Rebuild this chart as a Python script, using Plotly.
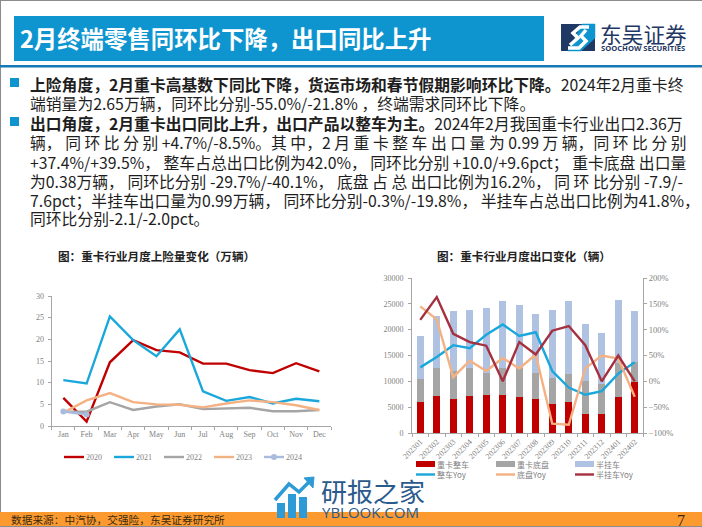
import plotly.graph_objects as go

W, H = 702, 527
def X(p): return p / W
def Y(p): return 1 - p / H

# ---------- data ----------
months = ["Jan","Feb","Mar","Apr","May","Jun","Jul","Aug","Sep","Oct","Nov","Dec"]
y2020 = [6.5,1.0,14.7,19.8,17.5,17.0,14.4,14.4,12.9,12.2,14.5,12.6]
y2021 = [10.6,9.8,25.3,19.8,16.1,22.3,8.0,5.8,6.7,5.2,6.3,5.7]
y2022 = [3.3,3.3,5.5,3.7,4.5,5.0,3.9,4.1,4.2,3.4,3.4,3.7]
y2023 = [3.1,5.9,7.6,5.5,5.0,4.9,4.3,5.2,5.9,5.5,4.8,3.7]
y2024 = [3.35,2.65]

periods = ["202301","202302","202303","202304","202305","202306","202307","202308","202309","202310","202311","202312","202401","202402"]
whole = [6050,7100,6600,7200,7300,7450,6950,6650,5600,6000,3700,3600,7050,9900]
chassis = [4450,5500,5400,5300,4300,5150,5550,5050,5000,5400,6300,5800,6450,3800]
semi = [8200,10000,11700,11400,12500,13000,12300,11300,13200,14100,11100,10000,12300,9900]
whole_yoy = [27,47,70,64,90,110,88,95,20,-12,-26,-19,15,37]
chassis_yoy = [145,120,8,40,20,45,25,52,-82,-84,25,50,44,-30]
semi_yoy = [119,163,92,76,69,0,76,52,98,107,70,0,50,0]

title = "2月终端零售同环比下降，出口同比上升"
body_lines = [
    "<b>上险角度，2月重卡高基数下同比下降，货运市场和春节假期影响环比下降。</b>2024年2月重卡终",
    "端销量为2.65万辆，同环比分别-55.0%/-21.8% ，终端需求同环比下降。",
    "<b>出口角度，2月重卡出口同比上升，出口产品以整车为主。</b>2024年2月我国重卡行业出口2.36万",
    "辆， 同 环 比 分 别 +4.7%/-8.5%。其 中，2 月 重 卡 整 车 出 口 量 为 0.99 万 辆，同 环 比 分 别",
    "+37.4%/+39.5%， 整车占总出口比例为42.0%， 同环比分别 +10.0/+9.6pct； 重卡底盘 出口量",
    "为0.38万辆， 同环比分别 -29.7%/-40.1%， 底盘 占 总 出口比例为16.2%， 同 环 比分别 -7.9/-",
    "7.6pct；半挂车出口量为0.99万辆， 同环比分别-0.3%/-19.8%， 半挂车占总出口比例为41.8%，",
    "同环比分别-2.1/-2.0pct。",
]
body_y = [84,103,123,142,162,181,200,219]

CJK = "Noto Sans CJK SC"
SERIF = "Liberation Serif"
GREY = "#7f7f7f"
AXIS = "#a6a6a6"
BLUE = "#0e95d0"
NAVY = "#1f3864"
C_RED, C_CYAN, C_GREY, C_ORANGE, C_PALE, C_LBLUE, C_WINE = "#c00000","#1aa7dc","#a5a5a5","#f4b183","#a9bcdd","#b0c2e2","#a5303f"

fig = go.Figure()
for name, vals, col in [("2020",y2020,C_RED),("2021",y2021,C_CYAN),("2022",y2022,C_GREY),("2023",y2023,C_ORANGE)]:
    fig.add_trace(go.Scatter(x=months, y=vals, name=name, mode="lines", xaxis="x", yaxis="y",
                             line=dict(color=col, width=2.4)))
fig.add_trace(go.Scatter(x=months[:2], y=y2024, name="2024", mode="lines+markers", xaxis="x", yaxis="y",
                         line=dict(color=C_PALE, width=2.4), marker=dict(color=C_PALE, size=6)))
for name, vals, col in [("重卡整车",whole,C_RED),("重卡底盘",chassis,C_GREY),("半挂车",semi,C_LBLUE)]:
    fig.add_trace(go.Bar(x=periods, y=vals, name=name, marker=dict(color=col, line_width=0), xaxis="x2", yaxis="y2"))
for name, vals, col in [("整车Yoy",whole_yoy,C_CYAN),("底盘Yoy",chassis_yoy,C_ORANGE),("半挂车Yoy",semi_yoy,C_WINE)]:
    fig.add_trace(go.Scatter(x=periods, y=vals, name=name, mode="lines", line=dict(color=col, width=2.4),
                             xaxis="x2", yaxis="y3"))

tick = dict(family=SERIF, size=8, color=GREY)
axis_common = dict(showgrid=False, zeroline=False, showline=True, linecolor=AXIS, linewidth=1, automargin=False,
                   ticks="outside", ticklen=3, tickcolor=AXIS, tickfont=tick)

shapes = []
def rect(x0,y0,x1,y1,col):
    shapes.append(dict(type="rect", xref="paper", yref="paper", x0=X(x0), x1=X(x1), y0=Y(y1), y1=Y(y0),
                       fillcolor=col, line_width=0, layer="below"))
def poly(pts, col, width, fill=None):
    d = "M" + " L".join(f"{X(a):.5f},{Y(b):.5f}" for a,b in pts) + (" Z" if fill else "")
    shapes.append(dict(type="path", xref="paper", yref="paper", path=d, line=dict(color=col, width=width),
                       fillcolor=fill, layer="below"))

rect(0,0,702,1,"#8c8c8c")
rect(0,0,1,527,"#8c8c8c")
rect(14,16,544,61,BLUE)
rect(0,65,702,67.5,"#1678b4")
rect(10,78,19,87,BLUE)
rect(10,117,19,126,BLUE)
rect(0,512,702,526,"#fd9a2f")
rect(0,526,702,527,"#8c8c8c")

# logo
rect(561,24,595,51,NAVY)
poly([(582,24),(595,24),(595,38),(581,51),(568,51)],BLUE,0.5,fill=BLUE)
poly([(570,45),(578,38),(573,33),(580,27),(589,27)],"#ffffff",3.5)
poly([(586,30),(581,36),(586,41),(579,48),(568,48)],"#ffffff",3.5)

# watermark icon
for x0,y0 in [(277,503),(288,494),(299,497)]:
    rect(x0,y0,x0+8,518,"#2e9bd6")
poly([(275,500),(289,484),(299,492),(311,480)],"#2e9bd6",3.5)
poly([(304,478),(314,477),(313,488)],"#2e9bd6",1,fill="#2e9bd6")

ann = []
def text(x,y,t,size,col="#222222",family=CJK):
    ann.append(dict(xref="paper", yref="paper", x=X(x), y=Y(y), text=t, showarrow=False, xanchor="left", yanchor="middle",
                    font=dict(family=family, size=size, color=col), align="left", borderpad=0, borderwidth=0))

for i,(nm,col) in enumerate(zip(["2020","2021","2022","2023","2024"],[C_RED,C_CYAN,C_GREY,C_ORANGE,C_PALE])):
    x0 = 64 + 50*i
    poly([(x0,457),(x0+20,457)],col,2.4)
    text(x0+22,457,nm,8,GREY,family=SERIF)
shapes.append(dict(type="circle", xref="paper", yref="paper", x0=X(271), x1=X(277), y0=Y(460), y1=Y(454),
                   fillcolor=C_PALE, line_width=0, layer="below"))
for i,(nm,col) in enumerate(zip(["重卡整车","重卡底盘","半挂车"],[C_RED,C_GREY,C_LBLUE])):
    x0 = [416,496,575][i]
    rect(x0,461,x0+19,467,col)
    text(x0+21,464.5,nm,8,GREY)
for i,(nm,col) in enumerate(zip(["整车Yoy","底盘Yoy","半挂车Yoy"],[C_CYAN,C_ORANGE,C_WINE])):
    x0 = [416,496,575][i]
    poly([(x0,474.5),(x0+19,474.5)],col,2.4)
    text(x0+21,474.5,nm,8,GREY)

text(20,38,f"<b>{title}</b>",23.4,"#ffffff")
text(600,33,"东吴证券",21.7,NAVY)
text(601,48,"<b>SOOCHOW SECURITIES</b>",7.6,NAVY,family="Open Sans")
for t,y in zip(body_lines,body_y):
    text(30,y,t,15.8,"#1e1e1e")
text(58,256,"<b>图：重卡行业月度上险量变化（万辆）</b>",11.6,"#222222")
text(437,256,"<b>图：重卡行业月度出口变化（辆）</b>",11.6,"#222222")
text(11,519,"数据来源：中汽协，交强险，东吴证券研究所",10.7,"#3a2a10")
text(677,520,"7",16,"#3a2a10",family=SERIF)
text(321,490,"研报之家",26,"#2a5a8c")
text(322,512,"YBLOOK.COM",15,"#2a5a8c",family="Open Sans")

fig.update_layout(
    width=W, height=H, autosize=False, margin=dict(l=0,r=0,t=0,b=0),
    paper_bgcolor="white", plot_bgcolor="rgba(0,0,0,0)", barmode="stack", bargap=0.55, showlegend=False,
    xaxis=dict(domain=[X(51.7),X(331)], anchor="y", type="category", tickson="boundaries", range=[-0.5,11.5],
               tickangle=0, **axis_common),
    yaxis=dict(domain=[Y(426),Y(296)], anchor="x", range=[0,30], dtick=5, ticklabelstandoff=2, **axis_common),
    xaxis2=dict(domain=[X(412),X(643)], anchor="y2", type="category", tickson="boundaries", range=[-0.5,13.5],
                tickangle=-45, **axis_common),
    yaxis2=dict(domain=[Y(433),Y(278)], anchor="x2", range=[0,30000], dtick=5000, tickformat="d", ticklabelstandoff=3, **axis_common),
    yaxis3=dict(domain=[Y(433),Y(278)], anchor="x2", overlaying="y2", side="right", range=[-100,200], dtick=50,
                ticksuffix="%", **{**axis_common, "tickfont":dict(family=SERIF,size=8.5,color=GREY)}),
    shapes=shapes, annotations=ann,
)

fig.write_html("out.html", config=dict(displayModeBar=False),
               post_script="document.body.style.margin='0';document.body.style.overflow='hidden';")
